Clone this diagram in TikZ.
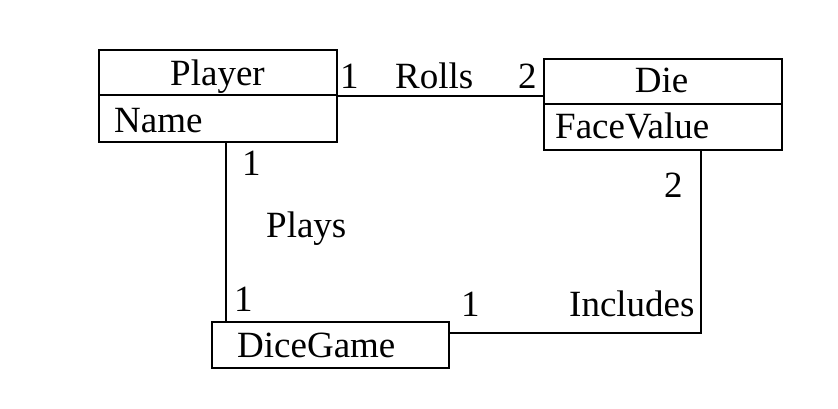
\documentclass[tikz,border=0pt]{standalone}
\usepackage{fontspec}
\setmainfont{Liberation Serif}
\begin{document}
\begin{tikzpicture}[x=1pt,y=-1pt,
  box/.style={draw, line width=1.5pt, rectangle, inner sep=0, anchor=north west},
  lbl/.style={inner sep=0, anchor=base west, font=\fontsize{37}{41}\selectfont},
  ttl/.style={inner sep=0, anchor=base, font=\fontsize{37}{41}\selectfont},
  conn/.style={line width=1.5pt}]
\useasboundingbox (0,0) rectangle (838,408);
% boxes
\node[box, minimum width=238pt, minimum height=92pt] (player) at (98,49) {};
\node[box, minimum width=238pt, minimum height=91pt] (die) at (543,58) {};
\node[box, minimum width=237pt, minimum height=46pt] (dicegame) at (211,321) {};
\coordinate (pdiv) at (98,95);
\coordinate (ddiv) at (543,104);
\draw[conn] (pdiv) -- (pdiv -| player.east);
\draw[conn] (ddiv) -- (ddiv -| die.east);
% texts
\node[ttl] (tplayer) at (217.5,85) {Player};
\node[lbl] (tname) at (114,132.5) {Name};
\node[ttl] (tdie) at (661.5,92) {Die};
\node[lbl] (tface) at (555,138) {FaceValue};
\node[lbl] (tdg) at (237,357) {DiceGame};
% connectors
\coordinate (rl) at (336,96);
\draw[conn] (player.east |- rl) -- (die.west |- rl);
\coordinate (pl) at (226,141);
\draw[conn] (player.south -| pl) -- (dicegame.north -| pl);
\coordinate (ic) at (701,333);
\draw[conn] (dicegame.east |- ic) -- (ic) -- (die.south -| ic);
% labels
\node[lbl] (r1) at (340,88) {1};
\node[lbl] (rolls) at (395,88) {Rolls};
\node[lbl] (r2) at (518,88) {2};
\node[lbl] (p1) at (242,175) {1};
\node[lbl] (plays) at (266,237) {Plays};
\node[lbl] (p2) at (234,311) {1};
\node[lbl] (i1) at (461,316) {1};
\node[lbl] (incl) at (569,316) {Includes};
\node[lbl] (i2) at (664,197) {2};
\end{tikzpicture}
\end{document}
